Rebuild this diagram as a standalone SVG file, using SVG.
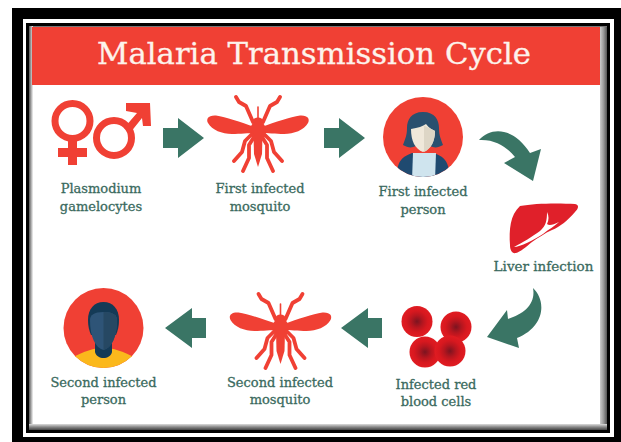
<svg xmlns="http://www.w3.org/2000/svg" width="621" height="442" viewBox="0 0 621 442">
<style>
.lb{font-family:"DejaVu Serif","Liberation Serif",serif;font-size:13px;fill:#3a6a5e;stroke:#3a6a5e;stroke-width:.3;text-anchor:middle}
.ar{fill:#3a7565}
.rd{fill:#f04034}
.leg{fill:none;stroke:#f04034;stroke-width:3.8;stroke-linecap:round;stroke-linejoin:round}
</style>
<defs>
<radialGradient id="cell"><stop offset="0" stop-color="#7c1420"/><stop offset=".4" stop-color="#b8161f"/><stop offset=".7" stop-color="#d8181f"/><stop offset="1" stop-color="#e01c22"/></radialGradient>
<linearGradient id="bl" x1="0" x2="1"><stop offset="0" stop-color="#555"/><stop offset="1" stop-color="#f4f4f4"/></linearGradient>
<linearGradient id="br" x1="0" x2="1"><stop offset="0" stop-color="#ccc"/><stop offset=".5" stop-color="#999"/><stop offset="1" stop-color="#555"/></linearGradient>
<linearGradient id="bb" x1="0" x2="0" y1="0" y2="1"><stop offset="0" stop-color="#ddd"/><stop offset=".5" stop-color="#888"/><stop offset="1" stop-color="#444"/></linearGradient>
<clipPath id="c1"><circle cx="423" cy="137" r="40"/></clipPath>
<clipPath id="c2"><circle cx="103.500" cy="328" r="40"/></clipPath>
<g id="mosq">
<path class="rd" d="M-3 -3C-18 -8 -32 -13 -42 -14.500C-50 -15 -52 -11 -50 -7C-46 0 -36 4 -26 4C-18 4 -9 3 -3 3Z"/>
<path class="rd" d="M3 -3C18 -8 32 -13 42 -14.500C50 -15 52 -11 50 -7C46 0 36 4 26 4C18 4 9 3 3 3Z"/>
<path class="leg" d="M-5 -8L-12 -24L-19 -28L-22 -33M5 -8L12 -24L19 -28L22 -33"/>
<path class="leg" style="stroke-width:1.6" d="M0 -10V-23"/>
<ellipse class="rd" cx="0" cy="-9" rx="5" ry="3.500"/>
<ellipse class="rd" cx="0" cy="0" rx="8" ry="8.500"/>
<path class="rd" d="M-4.500 4L-4 24L0 37L4 24L4.500 4Z"/>
<path class="leg" d="M-6 4L-13 11L-16 22L-24 31M6 4L13 11L16 22L24 31M-4 7L-9 15L-9 28L-15 41M4 7L9 15L9 28L15 41"/>
</g>
</defs>
<rect width="621" height="442" fill="#fff"/>
<g id="frame">
<rect x="12" y="8" width="609" height="434" fill="#000"/>
<rect x="23" y="19" width="591" height="418" fill="#fff"/>
<rect x="26" y="23" width="584" height="410" fill="#000"/>
<rect x="29" y="26" width="578" height="404" fill="#777"/>
<rect x="29" y="26" width="4" height="400" fill="url(#bl)"/>
<rect x="33" y="27" width="567" height="398" fill="#fff"/>
<rect x="600" y="27" width="7" height="400" fill="url(#br)"/>
<rect x="29" y="424" width="578" height="6" fill="url(#bb)"/>
<rect x="32" y="27" width="568" height="58" fill="#f04034"/>
</g>
<text id="title" x="314" y="64" font-family="'DejaVu Serif','Liberation Serif',serif" font-size="29" textLength="434" lengthAdjust="spacingAndGlyphs" fill="#fdf3ec" stroke="#fdf3ec" stroke-width=".3" text-anchor="middle">Malaria Transmission Cycle</text>
<g id="gametocytes">
<circle cx="72.500" cy="121" r="17.500" fill="none" stroke="#f04034" stroke-width="7"/>
<path class="rd" d="M68 137H77V148H87V157H77V165H68V157H58V148H68Z"/>
<circle cx="114" cy="138" r="17.500" fill="none" stroke="#f04034" stroke-width="7"/>
<path class="rd" d="M124 128L137 113L126 111V103L150 103L151 126L143 126L142 118L130 133Z"/>
<text class="lb" x="101" y="193">Plasmodium</text>
<text class="lb" x="101" y="211">gamelocytes</text>
</g>
<g id="mosquito1"><use href="#mosq" transform="translate(258,130)"/>
<text class="lb" x="260" y="193">First infected</text>
<text class="lb" x="260" y="211">mosquito</text></g>
<g id="person1">
<circle cx="423" cy="137" r="40" fill="#f04034"/>
<g clip-path="url(#c1)">
<path d="M396 180C397 160 402 157 412 153H434C444 157 449 160 450 180Z" fill="#1f4a70"/>
<path d="M413 153H436L435 180H412Z" fill="#cfe4ee"/>
</g>
<path d="M423 112C411 112 407 120 407 128C407 136 405 139 403 145C408 148 412 148 416 146H430C434 148 438 148 443 145C441 139 439 136 439 128C439 120 435 112 423 112Z" fill="#2a506f"/>
<path d="M411 129C418 128 423 126 426 124C429 128 433 130 435 131C435 141 431 149 423 152C415 149 411 141 411 129Z" fill="#efe8da"/>
<path d="M424 125.500C429 128 433 130 435 131C435 141 431 149 424 152Z" fill="#ddd6c6"/>
<text class="lb" x="423" y="196">First infected</text>
<text class="lb" x="423" y="214">person</text>
</g>
<g id="liver">
<path d="M520 206C535 203 560 203 575 204C580 205 578 209 575 212C568 220 560 227 552 230C545 233 538 238 532 242C526 247 520 252 516 253C512 254 510 250 510 245C509 230 510 215 520 206Z" fill="#e0202a"/>
<path d="M547 212C547 220 546 226 540 231C533 236 522 243 514 247C520 247 534 240 543 234C549 229 555 226 559 222C553 225 549 226 547 224C549 220 549 216 547 212Z" fill="#fff"/>
<text class="lb" x="543.500" y="271" style="font-size:13.500px">Liver infection</text>
</g>
<g id="cells">
<circle cx="417" cy="321.500" r="15.500" fill="url(#cell)"/>
<circle cx="456" cy="327" r="15.500" fill="url(#cell)"/>
<circle cx="425" cy="352" r="15.500" fill="url(#cell)"/>
<circle cx="450" cy="351" r="15.500" fill="url(#cell)"/>
<text class="lb" x="436" y="389">Infected red</text>
<text class="lb" x="436" y="406">blood cells</text>
</g>
<g id="mosquito2"><use href="#mosq" transform="translate(280.500,327)"/>
<text class="lb" x="280" y="387">Second infected</text>
<text class="lb" x="280" y="404">mosquito</text></g>
<g id="person2">
<circle cx="103.500" cy="328" r="40" fill="#f04034"/>
<g clip-path="url(#c2)">
<path d="M72 358C84 351 94 348 103.500 348C113 348 123 351 135 358V370H72Z" fill="#fbb81c"/>
</g>
<path d="M95 342H112V352C110 360 97 360 95 352Z" fill="#143a56"/>
<path d="M103.500 302C94 302 88 309 88 320C88 326 89 330 91 335H116C118 330 119 326 119 320C119 309 113 302 103.500 302Z" fill="#143a56"/>
<path d="M90 320C90 315 94 312 103.500 312C113 312 117 315 117 320C117 336 112 348 103.500 350C95 348 90 336 90 320Z" fill="#2e5477"/>
<path d="M103.500 312C113 312 117 315 117 320C117 336 112 348 103.500 350Z" fill="#264863"/>
<text class="lb" x="103.500" y="387">Second infected</text>
<text class="lb" x="103.500" y="404">person</text>
</g>
<g id="connectors">
<path class="ar" d="M163 128H178V118L204 138L178 158V148H163Z"/>
<path class="ar" d="M324 128H339V118L365 138L339 158V148H324Z"/>
<path class="ar" d="M479 140C492 126 514 128 530 153L541 149L533 181L504 163L515 157C507 147 495 139 479 140Z"/>
<path class="ar" d="M533 288C546 300 546 326 517 338L519 348L487 337L507 310L508 319C524 314 536 304 533 288Z"/>
<path class="ar" d="M382 318H368V308L341 328L368 348V338H382Z"/>
<path class="ar" d="M206 318H192V308L165 328L192 348V338H206Z"/>
</g>
</svg>
